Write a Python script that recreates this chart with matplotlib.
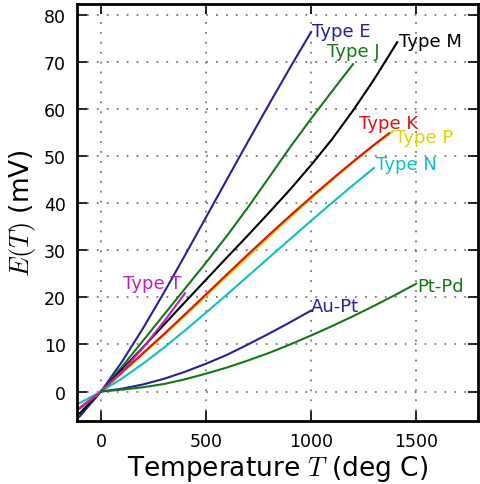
import matplotlib
matplotlib.use('Agg')
import matplotlib.pyplot as plt

plt.rcParams['mathtext.fontset'] = 'cm'

# temperature (deg C) and emf (mV) for each thermocouple
T_E = [-200, -100, 0, 100, 200, 300, 400, 500, 600, 700, 800, 900, 1000]
E_E = [-8.83, -5.24, 0, 6.32, 13.42, 21.03, 28.95, 37.01, 45.09, 53.11, 61.02, 68.79, 76.37]

T_J = [-200, -100, 0, 100, 200, 300, 400, 500, 600, 700, 800, 900, 1000, 1100, 1200]
E_J = [-7.89, -4.63, 0, 5.27, 10.78, 16.33, 21.85, 27.39, 33.10, 39.13, 45.49, 51.88, 57.95, 63.79, 69.55]

T_M = [-100, 0, 200, 400, 600, 700, 800, 900, 1000, 1100, 1200, 1300, 1410]
E_M = [-4.6, 0, 9.4, 19.0, 28.5, 33.2, 38.0, 42.9, 48.1, 53.6, 59.7, 66.3, 74.2]

T_P = [-100, 0, 100, 200, 300, 400, 500, 600, 700, 800, 900, 1000, 1100, 1200, 1300, 1390]
E_P = [-3.6, 0, 4.0, 8.0, 12.0, 16.1, 20.3, 24.5, 28.7, 32.9, 37.0, 41.0, 44.9, 48.7, 52.3, 55.3]

T_K = [-200, -100, 0, 100, 200, 300, 400, 500, 600, 700, 800, 900, 1000, 1100, 1200, 1300, 1372]
E_K = [-5.89, -3.55, 0, 4.10, 8.14, 12.21, 16.40, 20.64, 24.91, 29.13, 33.28, 37.33, 41.28, 45.12, 48.84, 52.41, 54.89]

T_N = [-200, -100, 0, 100, 200, 300, 400, 500, 600, 700, 800, 900, 1000, 1100, 1200, 1300]
E_N = [-3.99, -2.41, 0, 2.77, 5.91, 9.34, 12.97, 16.75, 20.61, 24.53, 28.46, 32.37, 36.26, 40.09, 43.85, 47.51]

T_T = [-200, -100, 0, 100, 200, 300, 400]
E_T = [-5.60, -3.38, 0, 4.28, 9.29, 14.86, 20.87]

T_AuPt = [0, 100, 200, 300, 400, 500, 600, 700, 800, 900, 1000]
E_AuPt = [0, 0.6, 1.5, 2.7, 4.2, 5.9, 7.8, 10.0, 12.3, 14.7, 17.2]

T_PtPd = [0, 100, 200, 300, 400, 500, 600, 700, 800, 900, 1000, 1100, 1200, 1300, 1400, 1500]
E_PtPd = [0, 0.4, 0.9, 1.6, 2.6, 3.8, 5.1, 6.6, 8.2, 10.0, 11.9, 13.9, 16.0, 18.2, 20.5, 22.9]

blue = '#22229a'
green = '#137a13'

fig = plt.figure(figsize=(4.8, 4.85), dpi=100)
ax = fig.add_axes([0.16, 0.1305, 0.836, 0.859])

ax.plot(T_E, E_E, color=blue, lw=1.5)
ax.plot(T_J, E_J, color=green, lw=1.5)
ax.plot(T_M, E_M, color='k', lw=1.5)
ax.plot(T_P, E_P, color='#d8d800', lw=1.7)
ax.plot(T_K, E_K, color='#e01010', lw=1.5)
ax.plot(T_N, E_N, color='#10c0c0', lw=1.5)
ax.plot(T_T, E_T, color='#c020c0', lw=1.5)
ax.plot(T_AuPt, E_AuPt, color=blue, lw=1.5)
ax.plot(T_PtPd, E_PtPd, color=green, lw=1.5)

fs = 13
ax.text(1006, 75.6, 'Type E', color=blue, fontsize=fs)
ax.text(1077, 71.2, 'Type J', color=green, fontsize=fs)
ax.text(1420, 73.4, 'Type M', color='k', fontsize=fs)
ax.text(1229, 55.9, 'Type K', color='#e01010', fontsize=fs)
ax.text(1400, 53.0, 'Type P', color='#d8d800', fontsize=fs)
ax.text(1310, 47.2, 'Type N', color='#10c0c0', fontsize=fs)
ax.text(104, 22.0, 'Type T', color='#c020c0', fontsize=fs)
ax.text(1001, 17.2, 'Au-Pt', color=blue, fontsize=fs)
ax.text(1504, 21.4, 'Pt-Pd', color=green, fontsize=fs)

ax.set_xlim(-115, 1795)
ax.set_ylim(-6.2, 82.3)
ax.set_xticks([0, 500, 1000, 1500])
ax.set_yticks(range(0, 81, 10))
ax.tick_params(direction='in', top=True, right=True, length=7, width=1.2,
               labelsize=12.5, pad=8)
for s in ax.spines.values():
    s.set_linewidth(2)
ax.grid(True, color='#777777', linestyle=(0, (1, 4.5)), linewidth=1.3)

ax.set_xlabel('Temperature $T$ (deg C)', fontsize=19, labelpad=2)
ax.set_ylabel('$E(T)$ (mV)', fontsize=19, labelpad=4)

fig.savefig('out.png', dpi=100)
